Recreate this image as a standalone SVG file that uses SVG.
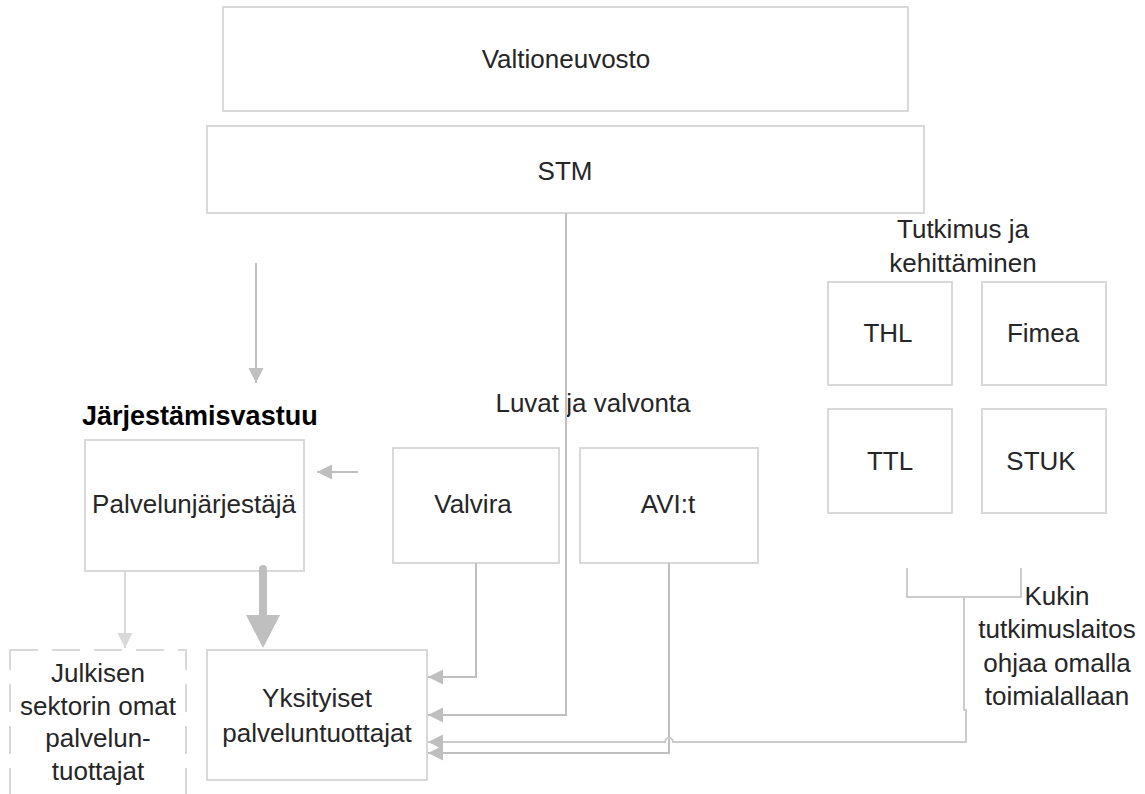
<svg xmlns="http://www.w3.org/2000/svg" width="1145" height="794" viewBox="0 0 1145 794">
<style>
.box{fill:#ffffff;stroke:#d9d9d9;stroke-width:2}
.dash{fill:#ffffff;stroke:#d9d9d9;stroke-width:2;stroke-dasharray:28 14}
.t{font-family:"Liberation Sans",Arial,sans-serif;font-size:26px;fill:#262626;text-anchor:middle}
.b{font-family:"Liberation Sans",Arial,sans-serif;font-size:27px;font-weight:bold;fill:#000000}
.c{fill:none;stroke:#bfbfbf;stroke-width:2}
.cm{fill:none;stroke:#cccccc;stroke-width:2}
.cl{fill:none;stroke:#d9d9d9;stroke-width:2}
</style>
<defs>
<marker id="ah" markerUnits="userSpaceOnUse" markerWidth="16" markerHeight="16" refX="15" refY="7.5" orient="auto">
<path d="M0,0 L15,7.5 L0,15 z" fill="#bfbfbf"/>
</marker>
<marker id="ahl" markerUnits="userSpaceOnUse" markerWidth="16" markerHeight="16" refX="15" refY="7.5" orient="auto">
<path d="M0,0 L15,7.5 L0,15 z" fill="#d9d9d9"/>
</marker>
</defs>
<rect width="1145" height="794" fill="#ffffff"/>

<g id="valtioneuvosto"><rect class="box" x="223" y="7" width="685" height="104"/><text class="t" x="566" y="68">Valtioneuvosto</text></g>
<g id="stm"><rect class="box" x="207" y="126" width="717" height="87"/><text class="t" x="565" y="180">STM</text></g>

<g id="tutkimus-label"><text class="t" x="963" y="238">Tutkimus ja</text><text class="t" x="963" y="272">kehittäminen</text></g>
<g id="thl"><rect class="box" x="828" y="282" width="124" height="103"/><text class="t" x="888" y="342">THL</text></g>
<g id="fimea"><rect class="box" x="982" y="282" width="124" height="103"/><text class="t" x="1043" y="342">Fimea</text></g>
<g id="ttl"><rect class="box" x="828" y="409" width="124" height="104"/><text class="t" x="890" y="470">TTL</text></g>
<g id="stuk"><rect class="box" x="982" y="409" width="124" height="104"/><text class="t" x="1041" y="470">STUK</text></g>

<g id="jarjestamisvastuu-label"><text class="b" x="82" y="425">Järjestämisvastuu</text></g>
<g id="palvelunjarjestaja"><rect class="box" x="85" y="440" width="219" height="131"/><text class="t" x="194" y="513">Palvelunjärjestäjä</text></g>

<g id="luvat-label"><text class="t" x="593" y="412">Luvat ja valvonta</text></g>
<g id="valvira"><rect class="box" x="393" y="448" width="166" height="115"/><text class="t" x="473" y="513">Valvira</text></g>
<g id="avit"><rect class="box" x="580" y="448" width="178" height="115"/><text class="t" x="668" y="513">AVI:t</text></g>

<g id="julkisen"><rect class="dash" x="10" y="650" width="176" height="170"/>
<text class="t" x="98" y="682">Julkisen</text><text class="t" x="98" y="715">sektorin omat</text><text class="t" x="98" y="747">palvelun-</text><text class="t" x="98" y="780">tuottajat</text></g>
<g id="yksityiset"><rect class="box" x="207" y="650" width="220" height="130"/><text class="t" x="317" y="707">Yksityiset</text><text class="t" x="317" y="742">palveluntuottajat</text></g>

<g id="kukin-label"><text class="t" x="1057" y="605">Kukin</text><text class="t" x="1057" y="638">tutkimuslaitos</text><text class="t" x="1057" y="672">ohjaa omalla</text><text class="t" x="1057" y="705">toimialallaan</text></g>

<g id="connectors">
<path class="c" d="M256 263 V383" marker-end="url(#ah)"/>
<path class="c" d="M358 472 H317" marker-end="url(#ah)"/>
<path class="cl" d="M125 571 V648" marker-end="url(#ahl)"/>
<path d="M263 569 V616" stroke="#bfbfbf" stroke-width="8" stroke-linecap="round" fill="none"/>
<path d="M246 615 H280 L263 648 z" fill="#bfbfbf"/>
<path class="c" d="M476 563 V677 H428" marker-end="url(#ah)"/>
<path class="c" d="M566 213 V715 H428" marker-end="url(#ah)"/>
<path class="c" d="M669 563 V753 H428" marker-end="url(#ah)"/>
<path class="cm" d="M907 568 V597 H1021 V568"/>
<path class="cm" d="M964 597 V710 H966 V742 H673 A4 4 0 0 0 665 742 H428" marker-end="url(#ah)"/>
</g>
</svg>
